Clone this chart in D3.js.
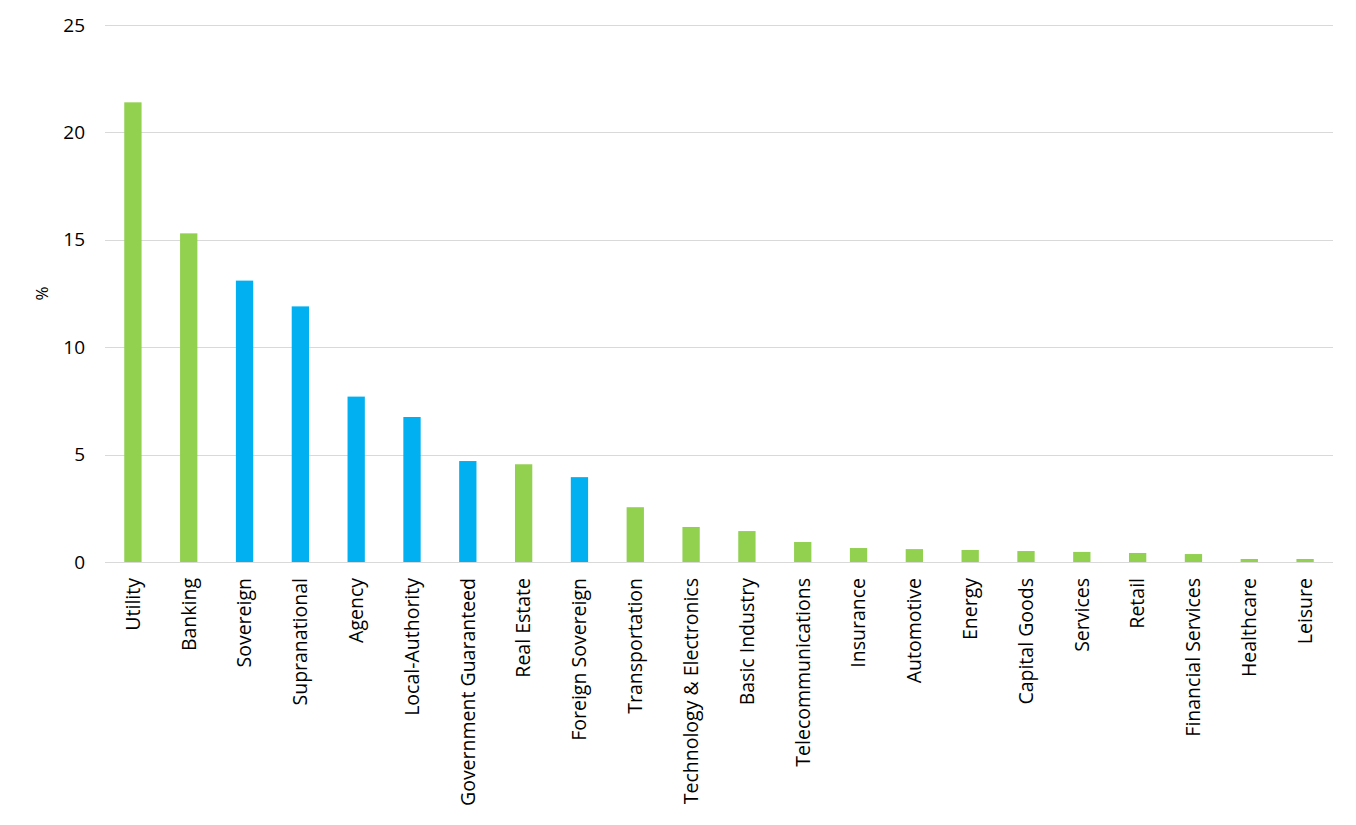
<!DOCTYPE html>
<html>
<head>
<meta charset="utf-8">
<script src="https://cdn.jsdelivr.net/npm/d3@7"></script>
<style>
  body { margin: 0; background: #fff; }
  text { font-family: "Open Sans", "Noto Sans", sans-serif; fill: #000; }
</style>
</head>
<body>
<div id="chart"></div>
<script>
const categories = [
  "Utility", "Banking", "Sovereign", "Supranational", "Agency", "Local-Authority",
  "Government Guaranteed", "Real Estate", "Foreign Sovereign", "Transportation",
  "Technology & Electronics", "Basic Industry", "Telecommunications", "Insurance",
  "Automotive", "Energy", "Capital Goods", "Services", "Retail",
  "Financial Services", "Healthcare", "Leisure"
];
const values = [
  21.4, 15.3, 13.1, 11.9, 7.7, 6.75, 4.7, 4.55, 3.95, 2.55, 1.63, 1.44,
  0.93, 0.65, 0.6, 0.56, 0.51, 0.47, 0.42, 0.37, 0.14, 0.14
];
// "gov" = public-sector issuers (blue), "corp" = the rest (green)
const groups = [
  "corp", "corp", "gov", "gov", "gov", "gov", "gov", "corp", "gov", "corp",
  "corp", "corp", "corp", "corp", "corp", "corp", "corp", "corp", "corp",
  "corp", "corp", "corp"
];
const yTicks = [0, 5, 10, 15, 20, 25];

const data = categories.map((c, i) => ({ name: c, value: values[i], group: groups[i] }));

const fullWidth = 1356;
const fullHeight = 825;
const margin = { top: 25, right: 23, bottom: 263, left: 105 };
const width = fullWidth - margin.left - margin.right;
const height = fullHeight - margin.top - margin.bottom;

const color = d3.scaleOrdinal().domain(["corp", "gov"]).range(["#92D050", "#00B0F0"]);

const x = d3.scaleBand().domain(categories).range([0, width]).paddingInner(0.69).paddingOuter(0.345);
const y = d3.scaleLinear().domain([0, 25]).range([height, 0]);

const svg = d3.select("#chart")
  .append("svg")
  .attr("width", fullWidth)
  .attr("height", fullHeight)
  .append("g")
  .attr("transform", `translate(${margin.left}, ${margin.top})`);

// gridlines
svg.append("g")
  .selectAll("line")
  .data(yTicks)
  .enter()
  .append("line")
  .attr("x1", 0)
  .attr("x2", width)
  .attr("y1", d => Math.round(y(d)) + 0.5)
  .attr("y2", d => Math.round(y(d)) + 0.5)
  .style("stroke", "#d9d9d9")
  .style("stroke-width", 1);

// y axis labels
const yAxis = svg.append("g")
  .call(d3.axisLeft(y).tickValues(yTicks).tickSize(0).tickPadding(20));
yAxis.select(".domain").remove();
yAxis.selectAll("text")
  .style("font-size", "19px")
  .style("font-family", "'Open Sans', sans-serif")
  .attr("fill", "#000");

// bars
svg.selectAll(".bar")
  .data(data)
  .enter()
  .append("rect")
  .attr("class", "bar")
  .attr("x", d => x(d.name))
  .attr("width", x.bandwidth())
  .attr("y", d => y(d.value))
  .attr("height", d => y(0) - y(d.value))
  .style("fill", d => color(d.group));

// category labels
const xAxis = svg.append("g")
  .attr("transform", `translate(0, ${height})`)
  .call(d3.axisBottom(x).tickSize(0).tickPadding(0));
xAxis.select(".domain").remove();
xAxis.selectAll("text")
  .attr("transform", "rotate(-90)")
  .attr("x", -16)
  .attr("y", 0)
  .attr("dy", "0.35em")
  .style("text-anchor", "end")
  .style("font-size", "19.5px")
  .style("font-family", "'Open Sans', sans-serif")
  .attr("fill", "#000");

// y axis title
svg.append("text")
  .attr("transform", `translate(${-63}, ${y(12.5)}) rotate(-90)`)
  .attr("text-anchor", "middle")
  .attr("dy", "0.35em")
  .style("font-size", "17px")
  .text("%");
</script>
</body>
</html>
